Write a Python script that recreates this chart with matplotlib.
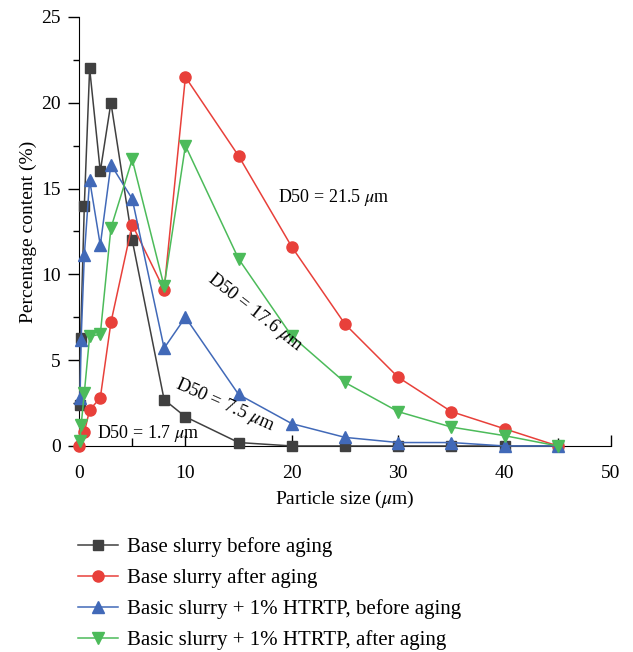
import matplotlib
matplotlib.use('Agg')
import matplotlib.pyplot as plt
from matplotlib.ticker import MultipleLocator

plt.rcParams['font.family'] = 'Liberation Serif'
plt.rcParams['mathtext.fontset'] = 'stix'

# particle size distributions
x_before = [0.05, 0.15, 0.5, 1, 2, 3, 5, 8, 10, 15, 20, 25, 30, 35, 40, 45]
y_before = [2.4, 6.3, 14.0, 22.0, 16.0, 20.0, 12.0, 2.7, 1.7, 0.2, 0, 0, 0, 0, 0, 0]

x_after = [0, 0.5, 1, 2, 3, 5, 8, 10, 15, 20, 25, 30, 35, 40, 45]
y_after = [0, 0.8, 2.1, 2.8, 7.2, 12.9, 9.1, 21.5, 16.9, 11.6, 7.1, 4.0, 2.0, 1.0, 0]

x_htrtp_before = [0.1, 0.2, 0.5, 1, 2, 3, 5, 8, 10, 15, 20, 25, 30, 35, 40, 45]
y_htrtp_before = [2.8, 6.2, 11.1, 15.5, 11.7, 16.4, 14.4, 5.7, 7.5, 3.0, 1.3, 0.5, 0.2, 0.2, 0, 0]

x_htrtp_after = [0.1, 0.2, 0.5, 1, 2, 3, 5, 8, 10, 15, 20, 25, 30, 35, 40, 45]
y_htrtp_after = [0.3, 1.2, 3.1, 6.4, 6.5, 12.7, 16.7, 9.3, 17.5, 10.9, 6.4, 3.7, 2.0, 1.1, 0.6, 0]

labels = ['Base slurry before aging',
          'Base slurry after aging',
          'Basic slurry + 1% HTRTP, before aging',
          'Basic slurry + 1% HTRTP, after aging']

fig = plt.figure(figsize=(6.33, 6.52), dpi=100)
ax = fig.add_axes([0.1248, 0.316, 0.8405, 0.658])

ax.plot(x_before, y_before, '-s', color='#404040', lw=1.1, ms=7, label=labels[0], clip_on=False, zorder=3)
ax.plot(x_after, y_after, '-o', color='#e8403a', lw=1.1, ms=8, label=labels[1], clip_on=False, zorder=3)
ax.plot(x_htrtp_before, y_htrtp_before, '-^', color='#4169b8', lw=1.1, ms=8, label=labels[2], clip_on=False, zorder=3)
ax.plot(x_htrtp_after, y_htrtp_after, '-v', color='#4cbb5a', lw=1.1, ms=8, label=labels[3], clip_on=False, zorder=3)

ax.set_xlim(0, 50)
ax.set_ylim(0, 25)
ax.xaxis.set_major_locator(MultipleLocator(10))
ax.xaxis.set_minor_locator(MultipleLocator(5))
ax.yaxis.set_major_locator(MultipleLocator(5))
ax.yaxis.set_minor_locator(MultipleLocator(2.5))
ax.spines['top'].set_visible(False)
ax.spines['right'].set_visible(False)
ax.tick_params(axis='x', which='major', direction='in', length=8, width=1, labelsize=14, pad=14)
ax.tick_params(axis='x', which='minor', direction='in', length=6, width=1)
ax.tick_params(axis='y', which='major', direction='out', length=8, width=1, labelsize=14, pad=5)
ax.tick_params(axis='y', which='minor', direction='out', length=4, width=1)

ax.set_xlabel(r'Particle size ($\mu$m)', fontsize=14, labelpad=5)
ax.set_ylabel('Percentage content (%)', fontsize=14, labelpad=3)

ax.text(18.7, 14.5, r'D50 = 21.5 $\mu$m', fontsize=13, va='center', ha='left')
ax.text(16.6, 7.8, r'D50 = 17.6 $\mu$m', fontsize=13.5, va='center', ha='center', rotation=-38)
ax.text(13.7, 2.4, r'D50 = 7.5 $\mu$m', fontsize=13.5, va='center', ha='center', rotation=-24)
ax.text(1.7, 0.75, r'D50 = 1.7 $\mu$m', fontsize=13, va='center', ha='left')

fig.legend(loc='upper left', bbox_to_anchor=(0.1232, 0.1764), frameon=False,
           fontsize=15, handlelength=1.9, handletextpad=0.45, labelspacing=0.54,
           borderpad=0, borderaxespad=0)

fig.savefig('out.png', dpi=100)
